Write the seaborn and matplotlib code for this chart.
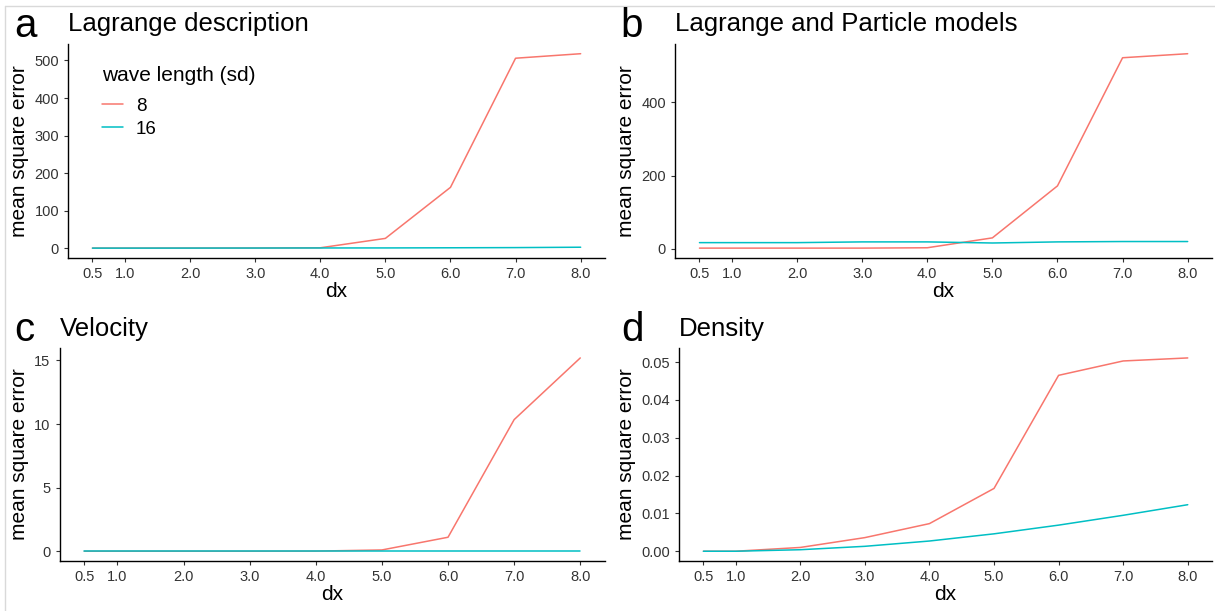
"""
dx 对 mean square error 的四联图（ggplot classic 风格）
"""
import matplotlib.pyplot as plt
import numpy as np
import pandas as pd
import seaborn as sns
from matplotlib.lines import Line2D

dx = [0.5, 1.0, 2.0, 3.0, 4.0, 5.0, 6.0, 7.0, 8.0]
dx_labels = ["0.5", "1.0", "2.0", "3.0", "4.0", "5.0", "6.0", "7.0", "8.0"]
wave_lengths = ["8", "16"]

lagrange_8 = [0.2, 0.2, 0.3, 0.4, 1.0, 26, 162, 506, 518]
lagrange_16 = [0.1, 0.1, 0.2, 0.3, 0.5, 0.6, 1.0, 1.5, 2.5]
particle_8 = [2, 2, 2, 2, 3, 30, 172, 522, 533]
particle_16 = [17, 17, 17, 19, 19, 16, 19, 20, 20]
velocity_8 = [0, 0, 0, 0, 0.01, 0.1, 1.1, 10.35, 15.2]
velocity_16 = [0, 0, 0, 0, 0, 0, 0, 0, 0]
density_8 = [0, 0, 0.0010, 0.0036, 0.0073, 0.0166, 0.0465, 0.0503, 0.0511]
density_16 = [0, 0, 0.0004, 0.0013, 0.0027, 0.0046, 0.0069, 0.0095, 0.0123]

panels = [
    ("a", "Lagrange description", lagrange_8, lagrange_16, [0, 100, 200, 300, 400, 500], None),
    ("b", "Lagrange and Particle models", particle_8, particle_16, [0, 200, 400], None),
    ("c", "Velocity", velocity_8, velocity_16, [0, 5, 10, 15], None),
    ("d", "Density", density_8, density_16, [0, 0.01, 0.02, 0.03, 0.04, 0.05],
     ["0.00", "0.01", "0.02", "0.03", "0.04", "0.05"]),
]

# 轴位置（figure 坐标）: left, bottom, width, height
axes_pos = [
    [0.056, 0.578, 0.442, 0.350],
    [0.5556, 0.578, 0.442, 0.350],
    [0.049, 0.082, 0.449, 0.348],
    [0.559, 0.082, 0.4385, 0.348],
]
letter_x = [0.012, 0.511, 0.012, 0.511]
title_y = [0.962, 0.962, 0.464, 0.464]

palette = {"8": "#F8766D", "16": "#00BFC4"}

sns.set_theme(style="ticks")
plt.rcParams["font.family"] = ["Liberation Sans", "DejaVu Sans"]
plt.rcParams["text.color"] = "black"
plt.rcParams["axes.labelcolor"] = "black"

fig = plt.figure(figsize=(12.15, 6.11), dpi=100)

for i, (letter, title, s8, s16, yticks, ylabels) in enumerate(panels):
    ax = fig.add_axes(axes_pos[i])
    df = pd.DataFrame({
        "dx": dx + dx,
        "mse": s8 + s16,
        "wave length (sd)": ["8"] * len(dx) + ["16"] * len(dx),
    })
    sns.lineplot(
        data=df, x="dx", y="mse", hue="wave length (sd)",
        hue_order=wave_lengths, palette=palette, linewidth=1.1,
        ax=ax, legend=False,
    )
    # ggplot 默认 5% 扩展
    lo = min(min(s8), min(s16))
    hi = max(max(s8), max(s16))
    pad = (hi - lo) * 0.05
    ax.set_ylim(lo - pad, hi + pad)
    ax.set_xlim(0.5 - 0.375, 8.0 + 0.375)
    ax.set_xticks(dx)
    ax.set_xticklabels(dx_labels)
    ax.set_yticks(yticks)
    if ylabels:
        ax.set_yticklabels(ylabels)
    ax.tick_params(labelsize=10.5, colors="#333333", labelcolor="#333333",
                   length=3, width=0.8)
    ax.set_xlabel("dx", fontsize=15, labelpad=1)
    ax.set_ylabel("mean square error", fontsize=15, labelpad=4)
    for side in ["left", "bottom"]:
        ax.spines[side].set_linewidth(1.0)
        ax.spines[side].set_color("black")
    sns.despine(ax=ax)

    fig.text(letter_x[i], title_y[i] - 0.004, letter, fontsize=29, va="center", ha="left")
    fig.text(axes_pos[i][0], title_y[i] - 0.002, title, fontsize=18.5, va="center", ha="left")

    if i == 0:
        handles = [Line2D([0], [0], color=palette[w], lw=1.1) for w in wave_lengths]
        leg = ax.legend(
            handles, wave_lengths, title="wave length (sd)", loc="upper left",
            bbox_to_anchor=(0.032, 0.975), frameon=False, fontsize=13.5,
            title_fontsize=15, handlelength=1.1, handletextpad=0.7,
            alignment="left", labelspacing=0.3,
        )
        leg._legend_box.sep = 9

# 外框浅灰线
fig.add_artist(Line2D([0.004, 1.0], [0.990, 0.990], color="#d9d9d9", lw=1,
                      transform=fig.transFigure))
fig.add_artist(Line2D([0.004, 0.004], [0.0, 0.990], color="#d9d9d9", lw=1,
                      transform=fig.transFigure))

fig.savefig("out.png", dpi=100)
